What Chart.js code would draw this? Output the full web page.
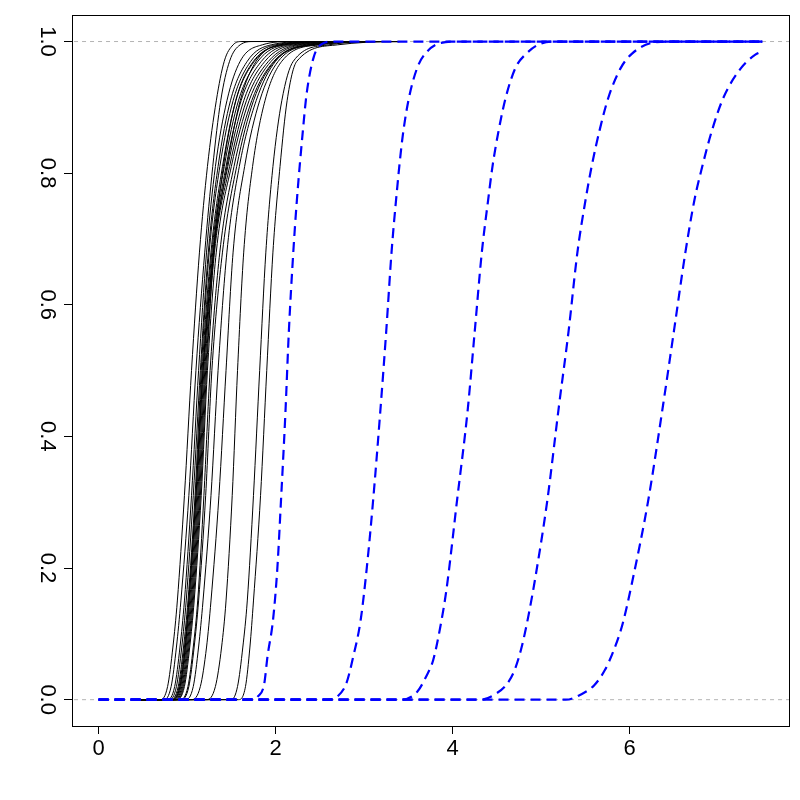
<!DOCTYPE html>
<html>
<head>
<meta charset="utf-8">
<script src="https://cdn.jsdelivr.net/npm/chart.js@4.4.1/dist/chart.umd.min.js"></script>
<style>
  html, body { margin: 0; padding: 0; background: #ffffff; }
  #wrap { width: 800px; height: 800px; }
</style>
</head>
<body>
<div id="wrap"><canvas id="c" width="800" height="800"></canvas></div>
<script>
// ---- tick values and labels ----
const xTickValues = [0, 2, 4, 6];
const xTickLabels = ['0', '2', '4', '6'];
const yTickValues = [0, 0.2, 0.4, 0.6, 0.8, 1.0];
const yTickLabels = ['0.0', '0.2', '0.4', '0.6', '0.8', '1.0'];
const refLines = [0, 1];

// ---- blue dashed curves (x, cumulative probability) ----
const blue1X = [0, 1.75, 1.80, 1.87, 1.91, 1.97, 2.02, 2.06, 2.11, 2.15, 2.20, 2.24, 2.31, 2.35, 2.43, 2.52, 2.65, 7.5];
const blue1Y = [0, 0, 0.005, 0.023, 0.067, 0.12, 0.2, 0.3, 0.433, 0.56, 0.68, 0.758, 0.867, 0.92, 0.976, 0.996, 1, 1];
const blue2X = [0, 2.58, 2.70, 2.80, 2.88, 2.96, 3.03, 3.10, 3.18, 3.25, 3.31, 3.36, 3.43, 3.50, 3.60, 3.70, 3.87, 4.05, 7.5];
const blue2Y = [0, 0, 0.005, 0.025, 0.067, 0.12, 0.2, 0.3, 0.433, 0.56, 0.68, 0.758, 0.85, 0.91, 0.96, 0.983, 0.998, 1, 1];
const blue3X = [0, 3.42, 3.60, 3.70, 3.78, 3.86, 3.93, 4.05, 4.17, 4.25, 4.33, 4.40, 4.45, 4.52, 4.60, 4.71, 4.82, 5.00, 5.20, 7.5];
const blue3Y = [0, 0, 0.012, 0.035, 0.06, 0.11, 0.167, 0.303, 0.44, 0.56, 0.68, 0.758, 0.81, 0.865, 0.915, 0.96, 0.98, 0.997, 1, 1];
const blue4X = [0, 4.32, 4.50, 4.62, 4.70, 4.78, 4.86, 4.94, 5.07, 5.20, 5.31, 5.41, 5.50, 5.57, 5.66, 5.76, 5.90, 6.03, 6.25, 6.45, 7.5];
const blue4Y = [0, 0, 0.01, 0.025, 0.045, 0.08, 0.13, 0.19, 0.303, 0.445, 0.56, 0.68, 0.758, 0.81, 0.865, 0.915, 0.96, 0.982, 0.998, 1, 1];
const blue5X = [0, 5.28, 5.45, 5.60, 5.72, 5.82, 5.92, 6.03, 6.21, 6.38, 6.50, 6.63, 6.73, 6.82, 6.93, 7.06, 7.26, 7.42, 7.5];
const blue5Y = [0, 0, 0.008, 0.022, 0.045, 0.075, 0.115, 0.18, 0.303, 0.45, 0.56, 0.68, 0.758, 0.81, 0.865, 0.915, 0.96, 0.98, 0.985];

// ---- black curves: x positions at these probability levels ----
const blackLevels = [0, 0, 0.02, 0.08, 0.15, 0.31, 0.5, 0.68, 0.81, 0.91, 0.97, 0.995, 1, 1];
const black1  = [0.45, 0.70, 0.78, 0.84, 0.89, 0.97, 1.05, 1.14, 1.23, 1.33, 1.42, 1.52, 1.62, 3.4];
const black2  = [0.45, 0.74, 0.82, 0.88, 0.93, 1.02, 1.10, 1.20, 1.29, 1.38, 1.48, 1.60, 1.75, 3.4];
const black3  = [0.45, 0.78, 0.86, 0.92, 0.97, 1.05, 1.13, 1.22, 1.32, 1.45, 1.60, 1.85, 2.20, 3.4];
const black4  = [0.45, 0.80, 0.88, 0.94, 0.99, 1.07, 1.15, 1.24, 1.35, 1.49, 1.68, 1.95, 2.40, 3.4];
const black5  = [0.45, 0.81, 0.90, 0.96, 1.01, 1.09, 1.16, 1.25, 1.37, 1.52, 1.72, 2.00, 2.50, 3.4];
const black6  = [0.45, 0.83, 0.91, 0.97, 1.02, 1.10, 1.17, 1.27, 1.40, 1.55, 1.76, 2.05, 2.60, 3.4];
const black7  = [0.45, 0.84, 0.92, 0.98, 1.03, 1.11, 1.18, 1.28, 1.42, 1.58, 1.80, 2.10, 2.70, 3.4];
const black8  = [0.45, 0.85, 0.93, 0.99, 1.04, 1.12, 1.19, 1.29, 1.44, 1.61, 1.84, 2.15, 2.80, 3.4];
const black9  = [0.45, 0.86, 0.94, 1.00, 1.05, 1.13, 1.20, 1.30, 1.46, 1.64, 1.88, 2.20, 2.90, 3.4];
const black10 = [0.45, 0.87, 0.95, 1.01, 1.06, 1.14, 1.21, 1.31, 1.48, 1.67, 1.92, 2.25, 3.00, 3.4];
const black11 = [0.45, 0.88, 0.97, 1.03, 1.08, 1.16, 1.23, 1.33, 1.50, 1.70, 1.95, 2.30, 3.10, 3.4];
const black12 = [0.45, 0.92, 1.01, 1.07, 1.12, 1.19, 1.26, 1.37, 1.53, 1.73, 1.98, 2.35, 3.10, 3.4];
const black13 = [0.45, 0.98, 1.07, 1.13, 1.18, 1.27, 1.35, 1.45, 1.59, 1.78, 2.00, 2.40, 3.20, 3.4];
const black14 = [0.45, 1.05, 1.15, 1.22, 1.27, 1.36, 1.44, 1.52, 1.65, 1.82, 2.03, 2.45, 3.20, 3.4];
const black15 = [0.45, 1.22, 1.32, 1.39, 1.44, 1.51, 1.57, 1.64, 1.74, 1.88, 2.07, 2.50, 3.30, 3.4];
const black16 = [0.45, 1.50, 1.57, 1.63, 1.68, 1.75, 1.82, 1.89, 1.97, 2.07, 2.20, 2.60, 3.30, 3.4];
const black17 = [0.45, 1.58, 1.66, 1.71, 1.75, 1.83, 1.90, 1.97, 2.05, 2.13, 2.24, 2.70, 3.35, 3.4];
const black18 = [0.45, 0.83, 0.92, 0.98, 1.02, 1.10, 1.18, 1.30, 1.45, 1.60, 1.78, 2.05, 2.60, 3.4];
const black19 = [0.45, 0.88, 0.96, 1.02, 1.07, 1.15, 1.22, 1.30, 1.41, 1.55, 1.75, 2.10, 2.70, 3.4];
const black20 = [0.45, 0.93, 1.02, 1.08, 1.13, 1.21, 1.28, 1.40, 1.56, 1.75, 1.99, 2.40, 3.00, 3.4];

const blackCurves = [black1, black2, black3, black4, black5, black6, black7, black8, black9, black10,
                     black11, black12, black13, black14, black15, black16, black17, black18, black19, black20];
const blueCurves = [[blue1X, blue1Y], [blue2X, blue2Y], [blue3X, blue3Y], [blue4X, blue4Y], [blue5X, blue5Y]];

// ---- build datasets ----
const datasets = [];
blueCurves.forEach(([xs, ys]) => {
  datasets.push({
    data: xs.map((x, i) => ({ x: x, y: ys[i] })),
    borderColor: '#0000ff', borderWidth: 2.2, borderDash: [10, 6],
    pointRadius: 0, fill: false, cubicInterpolationMode: 'monotone', order: 0
  });
});
blackCurves.forEach(xs => {
  datasets.push({
    data: xs.map((x, i) => ({ x: x, y: blackLevels[i] })),
    borderColor: '#000000', borderWidth: 1,
    pointRadius: 0, fill: false, cubicInterpolationMode: 'monotone', order: 1
  });
});
refLines.forEach(v => {
  datasets.push({
    data: [{ x: -1, y: v }, { x: 9, y: v }],
    borderColor: '#b4b4b4', borderWidth: 1, borderDash: [4, 4],
    pointRadius: 0, fill: false, order: 2
  });
});

const boxPlugin = {
  id: 'box',
  afterDraw(chart) {
    const a = chart.chartArea, ctx = chart.ctx;
    ctx.save();
    ctx.strokeStyle = '#000';
    ctx.lineWidth = 1;
    ctx.strokeRect(Math.round(a.left) + 0.5, Math.round(a.top) + 0.5,
                   Math.round(a.right - a.left), Math.round(a.bottom - a.top));
    ctx.restore();
  }
};

const tickFont = { family: 'Liberation Sans, Arial, sans-serif', size: 22 };

new Chart(document.getElementById('c'), {
  type: 'line',
  data: { datasets: datasets },
  plugins: [boxPlugin],
  options: {
    responsive: false,
    animation: false,
    events: [],
    layout: { padding: { top: 14, right: 11, left: 0, bottom: 0 } },
    plugins: { legend: { display: false }, tooltip: { enabled: false }, title: { display: false } },
    scales: {
      x: {
        type: 'linear', min: -0.3, max: 7.8,
        afterBuildTicks: s => { s.ticks = xTickValues.map(v => ({ value: v })); },
        afterFit: s => { s.height = 74; },
        ticks: {
          callback: v => xTickLabels[xTickValues.indexOf(v)],
          font: tickFont, color: '#000', padding: 2, maxRotation: 0, minRotation: 0, autoSkip: false
        },
        grid: { drawOnChartArea: false, drawTicks: true, tickLength: 8, color: '#000', lineWidth: 1 },
        border: { display: true, color: '#000', width: 1 }
      },
      y: {
        type: 'linear', min: -0.04, max: 1.04,
        afterBuildTicks: s => { s.ticks = yTickValues.map(v => ({ value: v })); },
        afterFit: s => { s.width = 72; },
        ticks: {
          callback: v => yTickLabels[yTickValues.findIndex(t => Math.abs(t - v) < 1e-9)],
          font: tickFont, color: '#000', padding: 2, minRotation: -90, maxRotation: -90,
          crossAlign: 'center', autoSkip: false
        },
        grid: { drawOnChartArea: false, drawTicks: true, tickLength: 8, color: '#000', lineWidth: 1 },
        border: { display: true, color: '#000', width: 1 }
      }
    }
  }
});
</script>
</body>
</html>
